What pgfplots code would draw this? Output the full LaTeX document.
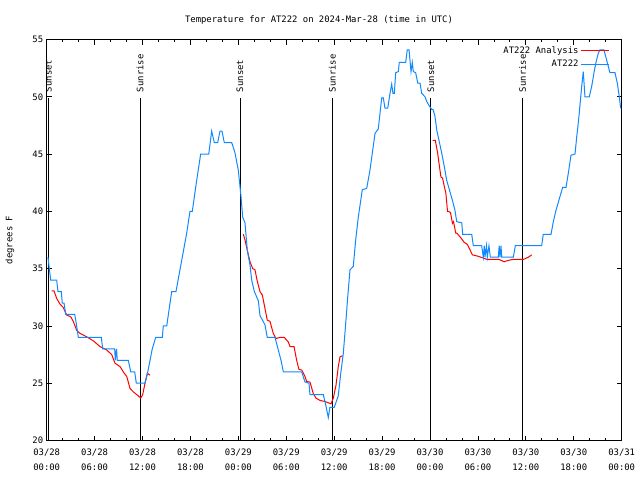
\documentclass[border=0pt]{standalone}
\usepackage{fontspec}
\setmainfont{DejaVu Sans Mono}
\setmonofont{DejaVu Sans Mono}
\usepackage{pgfplots}
\pgfplotsset{compat=1.18}
\definecolor{obsblue}{RGB}{16,136,255}
\newcommand{\gf}{\fontsize{8.9pt}{10.7pt}\selectfont}
\begin{document}
\begin{tikzpicture}[font=\gf]
\path[use as bounding box] (0,0) rectangle (640pt,480pt);
\begin{axis}[
  at={(46.7pt,39.5pt)}, anchor=south west,
  scale only axis, width=575pt, height=401pt,
  xmin=0, xmax=72, ymin=20, ymax=55,
  xtick={0,6,...,72},
  xticklabels={{03/28\\00:00},{03/28\\06:00},{03/28\\12:00},{03/28\\18:00},{03/29\\00:00},{03/29\\06:00},{03/29\\12:00},{03/29\\18:00},{03/30\\00:00},{03/30\\06:00},{03/30\\12:00},{03/30\\18:00},{03/31\\00:00}},
  xticklabel style={align=center, font=\fontsize{8.9pt}{15pt}\selectfont, yshift=-5pt},
  minor x tick num=2,
  ytick={20,25,...,55},
  /pgf/number format/assume math mode=true,
  tick align=inside, tick pos=both,
  major tick length=5pt, minor tick length=2.5pt,
  every tick/.style={black, line width=0.8pt},
  axis line style={line width=0.8pt},
  legend cell align=right,
  legend plot pos=right,
  legend style={at={(1,1)}, anchor=north east, draw=none, fill=none,
    xshift=-12pt, yshift=-5pt, inner sep=0pt, row sep=1pt,
    font=\gf},
  legend image code/.code={\draw[#1] (0pt,0pt) -- (28pt,0pt);},
]
% sunrise / sunset lines
\addplot[black, line width=0.8pt, forget plot] coordinates {(0.2,20) (0.2,49.86)};
\addplot[black, line width=0.8pt, forget plot] coordinates {(11.7,20) (11.7,49.86)};
\addplot[black, line width=0.8pt, forget plot] coordinates {(24.2,20) (24.2,49.86)};
\addplot[black, line width=0.8pt, forget plot] coordinates {(35.76,20) (35.76,49.86)};
\addplot[black, line width=0.8pt, forget plot] coordinates {(48.1,20) (48.1,49.86)};
\addplot[black, line width=0.8pt, forget plot] coordinates {(59.6,20) (59.6,49.86)};
% analysis (red)
\addplot[red, line width=1pt] coordinates {
(0.63,33.07)(0.91,33.07)(1.25,32.4)(1.67,31.9)(2.08,31.6)(2.5,30.95)(3.0,30.8)(3.33,30.4)(3.76,29.6)(4.17,29.35)(5.01,29.05)(5.84,28.7)(6.67,28.2)(7.51,27.9)(8.14,27.5)(8.55,26.75)(9.18,26.45)(9.68,25.9)(10.02,25.6)(10.43,24.55)(10.84,24.25)(11.34,23.97)(11.77,23.7)(12.02,24.0)(12.31,25.0)(12.6,25.87)(12.94,25.7)
};
\addlegendentry{AT222 Analysis}
\addplot[red, line width=1pt, forget plot] coordinates {
(24.62,38.0)(24.83,37.5)(25.12,36.6)(25.46,35.6)(25.8,35.0)(26.08,34.9)(26.37,33.9)(26.71,33.0)(27.0,32.7)(27.34,31.5)(27.62,30.5)(27.96,30.4)(28.37,29.35)(28.71,28.9)(29.21,29.0)(29.75,29.0)(30.25,28.6)(30.47,28.2)(30.97,28.2)(31.3,27.0)(31.59,26.2)(31.93,26.15)(32.34,25.6)(32.55,25.15)(32.97,25.1)(33.38,24.1)(33.72,23.7)(34.22,23.5)(34.85,23.4)(35.6,23.2)(35.89,23.7)(36.23,24.85)(36.51,26.45)(36.73,27.3)(37.06,27.4)
};
\addplot[red, line width=1pt, forget plot] coordinates {
(48.32,46.2)(48.66,46.2)(48.95,45.1)(49.36,43.0)(49.57,42.9)(49.78,42.2)(49.98,41.6)(50.19,40.0)(50.31,40.0)(50.56,39.9)(50.81,38.95)(50.94,39.1)(51.22,38.1)(51.35,38.1)(51.85,37.7)(52.27,37.3)(52.5,37.2)(52.69,37.1)(53.31,36.2)(53.94,36.1)(54.35,36.0)(55.19,35.8)(56.66,35.8)(57.28,35.6)(57.7,35.7)(58.32,35.8)(59.68,35.8)(60.31,36.0)(60.73,36.2)
};
% observations (blue)
\addplot[obsblue, line width=1pt] coordinates {
(0.16,36.0)(0.5,34.0)(1.25,34)(1.41,33)(1.83,33)(1.95,32)(2.17,32)(2.38,31)(3.51,31)(3.71,30.2)(3.96,29)(6.84,29)(7.01,28)(8.51,28)(8.59,27)(8.74,28)(8.84,27)(10.22,27)(10.52,26)(11.02,26)(11.22,25)(12.31,25)(12.6,25.8)(12.94,27)(13.22,28)(13.65,29)(14.48,29)(14.6,30)(15.03,30)(15.65,33)(16.19,33)(16.9,35.7)(17.53,38.1)(17.94,40)(18.23,40)(18.78,42.7)(19.28,45)(20.29,45)(20.66,47)(20.99,46)(21.41,46)(21.7,47)(21.95,47)(22.24,46)(23.17,46)(23.58,45.1)(23.99,43.6)(24.2,42.2)(24.33,41.3)(24.54,39.5)(24.83,39)(25.12,36.6)(25.46,35.3)(25.67,34)(26.0,33)(26.5,32.2)(26.71,30.9)(27.33,30.1)(27.62,29)(28.59,29)(29.0,27.9)(29.34,27)(29.63,26)(31.93,26)(32.34,25.1)(32.84,25)(32.97,24)(34.64,24)(34.94,23.1)(35.26,22)(35.47,22.9)(36.01,22.9)(36.51,23.9)(36.81,25.8)(37.14,27.6)(37.44,30.2)(37.69,32.5)(37.98,34.9)(38.39,35.2)(38.69,37.5)(39.02,39.5)(39.52,41.9)(40.07,42)(40.48,43.6)(41.11,46.8)(41.52,47.2)(41.95,49.9)(42.15,49.9)(42.36,49)(42.7,49)(42.99,50.3)(43.2,51.1)(43.36,50.3)(43.53,50.3)(43.7,52.1)(44.03,52.2)(44.15,53)(44.95,53)(45.15,54.1)(45.37,54.1)(45.62,52.2)(45.78,53)(45.91,52.2)(46.2,52.1)(46.46,51.2)(46.74,51.2)(46.96,50.3)(47.37,50)(47.58,49.6)(47.91,49.2)(48.21,48.9)(48.37,48.9)(48.62,48.3)(48.84,47.1)(49.12,46.2)(49.46,45.1)(49.79,43.9)(50.09,42.7)(50.5,41.7)(50.79,41)(51.12,40.1)(51.34,39.1)(51.97,39)(52.09,38)(53.22,38)(53.42,37)(54.47,37)(54.67,36)(54.8,37)(54.88,36)(55.07,37)(55.17,36)(55.38,37)(55.55,36)(56.55,36)(56.66,37)(56.76,36)(56.89,37)(56.97,36)(58.43,36)(58.68,37)(61.98,37)(62.18,38)(63.15,38)(63.44,39.1)(63.74,40)(64.19,41.1)(64.61,42.1)(65.03,42.1)(65.31,43.3)(65.65,44.9)(66.15,45)(66.37,46.5)(66.65,48.3)(66.99,50.9)(67.19,52.2)(67.4,50)(67.94,50)(68.24,50.9)(68.53,52.1)(68.78,53)(69.07,53.8)(69.28,54.1)(69.78,54.1)(70.19,53)(70.53,52.1)(71.16,52.1)(71.45,51.2)(71.7,50)(71.87,49)
};
\addlegendentry{AT222}
% labels
\node[rotate=90, anchor=west, inner sep=0pt] at (axis cs:0.2,50.4) {Sunset};
\node[rotate=90, anchor=west, inner sep=0pt] at (axis cs:11.7,50.4) {Sunrise};
\node[rotate=90, anchor=west, inner sep=0pt] at (axis cs:24.2,50.4) {Sunset};
\node[rotate=90, anchor=west, inner sep=0pt] at (axis cs:35.76,50.4) {Sunrise};
\node[rotate=90, anchor=west, inner sep=0pt] at (axis cs:48.1,50.4) {Sunset};
\node[rotate=90, anchor=west, inner sep=0pt] at (axis cs:59.6,50.4) {Sunrise};
\end{axis}
\node at (319pt,460pt) {Temperature for AT222 on 2024-Mar-28 (time in UTC)};
\node[rotate=90] at (10pt,240pt) {degrees F};
\end{tikzpicture}
\end{document}
